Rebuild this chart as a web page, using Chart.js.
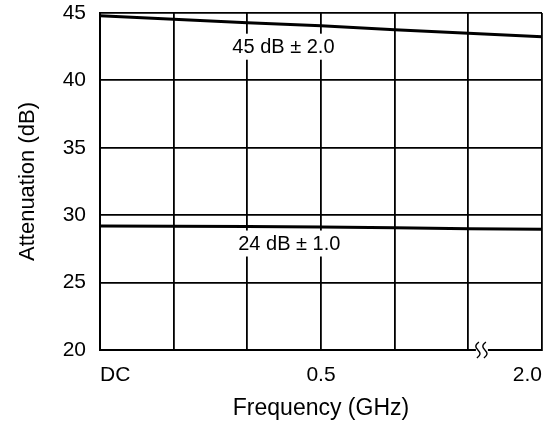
<!DOCTYPE html>
<html>
<head>
<meta charset="utf-8">
<script src="https://cdn.jsdelivr.net/npm/chart.js@4/dist/chart.umd.min.js"></script>
<style>
  html, body { margin: 0; padding: 0; background: #fff; }
  #wrap { width: 549px; height: 427px; }
</style>
</head>
<body>
<div id="wrap"><canvas id="attenChart" width="549" height="427"></canvas></div>
<script>
// ============================================
// ATTENUATION VS FREQUENCY
// ============================================

const freqLabels = ["DC", "", "", "0.5", "", "", "2.0"];

const atten45 = [44.8, 44.53, 44.28, 44.05, 43.75, 43.5, 43.23];

const atten24 = [29.19, 29.18, 29.16, 29.13, 29.06, 29.0, 28.95];

const curveLabels = ["45 dB \u00b1 2.0", "24 dB \u00b1 1.0"];

const FONT = "'Liberation Sans', Arial, Helvetica, sans-serif";


// text boxes over the grid + the axis break mark
const decorPlugin = {
    id: "decor",
    afterDatasetsDraw(chart) {
        const ctx = chart.ctx;
        const x = chart.scales.x;
        const y = chart.scales.y;

        // curve labels (white box breaks the grid lines)
        const x2 = x.getPixelForValue(2);
        const x3 = x.getPixelForValue(3);
        const spots = [
            [x2 + 0.49 * (x3 - x2), y.getPixelForValue(42.5)],
            [x2 + 0.57 * (x3 - x2), y.getPixelForValue(27.9)]
        ];
        ctx.save();
        ctx.font = "20px " + FONT;
        ctx.textAlign = "center";
        ctx.textBaseline = "middle";
        curveLabels.forEach(function (txt, i) {
            const w = ctx.measureText(txt).width + 6;
            ctx.fillStyle = "#fff";
            ctx.fillRect(spots[i][0] - w / 2, spots[i][1] - 13, w, 26);
            ctx.fillStyle = "#000";
            ctx.fillText(txt, spots[i][0], spots[i][1] + 1);
        });

        // axis break between the last two grid lines
        const x5 = x.getPixelForValue(5);
        const x6 = x.getPixelForValue(6);
        const bx = x5 + 0.13 * (x6 - x5);
        const by = chart.chartArea.bottom;
        ctx.fillStyle = "#fff";
        ctx.fillRect(bx - 2, by - 3, 12, 6);
        ctx.strokeStyle = "#000";
        ctx.lineWidth = 1.4;
        [bx, bx + 7].forEach(function (sx) {
            ctx.beginPath();
            ctx.moveTo(sx + 1, by - 8);
            ctx.bezierCurveTo(sx - 3, by - 5, sx - 3, by - 3, sx, by);
            ctx.bezierCurveTo(sx + 3, by + 3, sx + 3, by + 5, sx - 1, by + 8);
            ctx.stroke();
        });
        ctx.restore();
    }
};


const attenChart = new Chart(
    document.getElementById("attenChart"),
    {
        type: "line",

        data: {
            labels: freqLabels,
            datasets: [
                {
                    data: atten45,
                    borderColor: "#000",
                    borderWidth: 3,
                    pointRadius: 0,
                    tension: 0
                },
                {
                    data: atten24,
                    borderColor: "#000",
                    borderWidth: 3,
                    pointRadius: 0,
                    tension: 0
                }
            ]
        },

        options: {
            responsive: false,
            animation: false,
            layout: {
                padding: { top: 13, right: 7, left: 0, bottom: 0 }
            },
            plugins: {
                legend: { display: false },
                tooltip: { enabled: false }
            },
            scales: {
                x: {
                    offset: false,
                    afterFit: function (s) {
                        s.height = 77;
                        s.paddingLeft = 0;
                        s.paddingRight = 0;
                    },
                    grid: {
                        color: "#000",
                        lineWidth: 1.8,
                        drawTicks: false
                    },
                    border: { color: "#000", width: 2 },
                    ticks: {
                        autoSkip: false,
                        maxRotation: 0,
                        align: "inner",
                        padding: 13,
                        color: "#000",
                        font: { family: FONT, size: 21 }
                    },
                    title: {
                        display: true,
                        text: "Frequency (GHz)",
                        color: "#000",
                        padding: { top: 0, bottom: 5 },
                        font: { family: FONT, size: 23 }
                    }
                },
                y: {
                    min: 20,
                    max: 45,
                    afterFit: function (s) {
                        s.width = 100;
                        s.paddingTop = 0;
                        s.paddingBottom = 0;
                    },
                    grid: {
                        color: "#000",
                        lineWidth: 1.8,
                        drawTicks: false
                    },
                    border: { color: "#000", width: 2 },
                    ticks: {
                        stepSize: 5,
                        padding: 14,
                        color: "#000",
                        font: { family: FONT, size: 21 }
                    },
                    title: {
                        display: true,
                        text: "Attenuation (dB)",
                        color: "#000",
                        padding: { top: 15, bottom: 0 },
                        font: { family: FONT, size: 22 }
                    }
                }
            }
        },

        plugins: [decorPlugin]
    }
);
</script>
</body>
</html>
